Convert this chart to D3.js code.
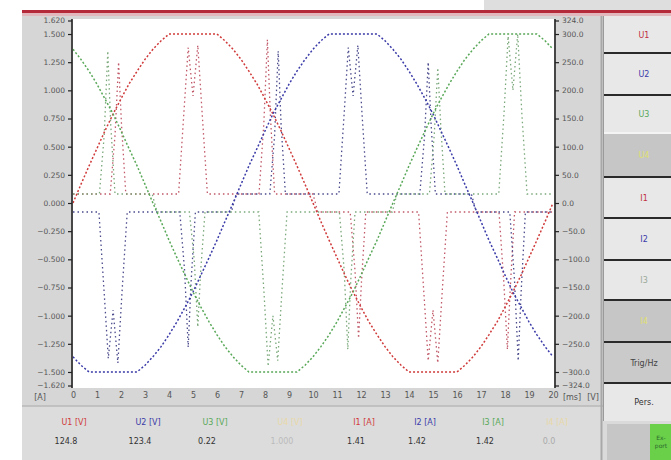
<!DOCTYPE html>
<html>
<head>
<meta charset="utf-8">
<script src="https://d3js.org/d3.v7.min.js"></script>
<style>
  body { margin: 0; background: #fff; }
  text { font-family: "DejaVu Sans", sans-serif; }
</style>
</head>
<body>
<div id="scope"></div>
<script>
// sample times [ms] for the voltages
const tV = [0,0.33,0.67,1,1.33,1.67,2,2.33,2.67,3,3.33,3.67,4,4.33,4.67,5,5.33,5.67,6,6.33,6.67,7,7.33,7.67,8,8.33,8.67,9,9.33,9.67,10,10.33,10.67,11,11.33,11.67,12,12.33,12.67,13,13.33,13.67,14,14.33,14.67,15,15.33,15.67,16,16.33,16.67,17,17.33,17.67,18,18.33,18.67,19,19.33,19.67,20];
const u1 = [0,33,66,97,128,158,185,211,234,255,273,288,300,300,300,300,300,300,300,288,273,255,234,211,185,158,128,97,66,33,0,-33,-66,-97,-128,-158,-185,-211,-234,-255,-273,-288,-300,-300,-300,-300,-300,-300,-300,-288,-273,-255,-234,-211,-185,-158,-128,-97,-66,-33,0];
const u2 = [-273,-288,-300,-300,-300,-300,-300,-300,-300,-288,-273,-255,-234,-211,-185,-158,-128,-97,-66,-33,0,33,66,97,128,158,185,211,234,255,273,288,300,300,300,300,300,300,300,288,273,255,234,211,185,158,128,97,66,33,0,-33,-66,-97,-128,-158,-185,-211,-234,-255,-273];
const u3 = [273,255,234,211,185,158,128,97,66,33,0,-33,-66,-97,-128,-158,-185,-211,-234,-255,-273,-288,-300,-300,-300,-300,-300,-300,-300,-288,-273,-255,-234,-211,-185,-158,-128,-97,-66,-33,0,33,66,97,128,158,185,211,234,255,273,288,300,300,300,300,300,300,300,288,273];

// currents: [time ms, amps] break points
const i1 = [[0,0.08],[1.55,0.08],[1.75,0.6],[1.9,1.25],[2.02,0.7],[2.2,0.08],
  [4.4,0.08],[4.62,0.8],[4.8,1.38],[5.0,0.95],[5.2,1.40],[5.38,0.8],[5.6,0.08],
  [7.75,0.08],[7.95,0.7],[8.1,1.45],[8.22,0.8],[8.4,0.08],[10.0,0.08],[10.2,-0.08],
  [11.55,-0.08],[11.75,-0.6],[11.9,-1.2],[12.02,-0.7],[12.2,-0.08],
  [14.4,-0.08],[14.62,-0.8],[14.8,-1.40],[15.0,-0.95],[15.2,-1.42],[15.38,-0.8],[15.6,-0.08],
  [17.75,-0.08],[17.95,-0.7],[18.1,-1.3],[18.22,-0.75],[18.4,-0.08],[20,-0.08]];
const i2 = [[0,-0.08],[1.08,-0.08],[1.3,-0.8],[1.47,-1.38],[1.67,-0.95],[1.87,-1.42],[2.04,-0.8],[2.26,-0.08],
  [4.45,-0.08],[4.65,-0.6],[4.8,-1.28],[4.92,-0.7],[5.1,-0.08],[6.6,-0.08],[6.8,0.08],
  [8.2,0.08],[8.4,0.6],[8.55,1.35],[8.67,0.7],[8.85,0.08],
  [11.08,0.08],[11.3,0.8],[11.47,1.38],[11.67,0.95],[11.87,1.40],[12.04,0.8],[12.26,0.08],
  [14.45,0.08],[14.65,0.6],[14.8,1.25],[14.92,0.7],[15.1,0.08],[16.6,0.08],[16.8,-0.08],
  [18.2,-0.08],[18.4,-0.7],[18.55,-1.4],[18.67,-0.8],[18.85,-0.08],[20,-0.08]];
const i3 = [[0,0.08],[1.1,0.08],[1.3,0.6],[1.45,1.35],[1.57,0.7],[1.75,0.08],[3.3,0.08],[3.5,-0.08],
  [4.85,-0.08],[5.05,-0.5],[5.2,-1.1],[5.32,-0.6],[5.5,-0.08],
  [7.74,-0.08],[7.96,-0.8],[8.13,-1.45],[8.33,-1.0],[8.53,-1.40],[8.7,-0.8],[8.92,-0.08],
  [11.1,-0.08],[11.3,-0.6],[11.45,-1.3],[11.57,-0.7],[11.75,-0.08],[13.3,-0.08],[13.5,0.08],
  [14.85,0.08],[15.05,0.6],[15.2,1.2],[15.32,0.7],[15.5,0.08],
  [17.74,0.08],[17.96,0.8],[18.13,1.48],[18.33,1.0],[18.53,1.5],[18.7,0.8],[18.92,0.08],[20,0.08]];

const timeTicks = [0,1,2,3,4,5,6,7,8,9,10,11,12,13,14,15,16,17,18,19,20];
const ampTicks = [-1.62,-1.5,-1.25,-1,-0.75,-0.5,-0.25,0,0.25,0.5,0.75,1,1.25,1.5,1.62];
const voltTicks = [-324,-300,-250,-200,-150,-100,-50,0,50,100,150,200,250,300,324];

const legendNames = ["U1 [V]","U2 [V]","U3 [V]","U4 [V]","I1 [A]","I2 [A]","I3 [A]","I4 [A]"];
const legendValues = ["124.8","123.4","0.22","1.000","1.41","1.42","1.42","0.0"];
const buttonNames = ["U1","U2","U3","U4","I1","I2","I3","I4","Trig/Hz","Pers."];

const W = 671, H = 460;
const svg = d3.select("#scope").append("svg").attr("width", W).attr("height", H);

// frame / panels
svg.append("rect").attr("x",484).attr("y",0).attr("width",187).attr("height",11).attr("fill","#dedede");
svg.append("rect").attr("x",22).attr("y",13).attr("width",581).attr("height",447).attr("fill","#d6d6d6");
svg.append("rect").attr("x",22).attr("y",406).attr("width",581).attr("height",54).attr("fill","#dcdcdc");
svg.append("line").attr("x1",22).attr("x2",603).attr("y1",406).attr("y2",406).attr("stroke","#b8b8b8").attr("stroke-width",1.5);
svg.append("rect").attr("x",22).attr("y",10).attr("width",649).attr("height",3).attr("fill","#b42a3a");
svg.append("rect").attr("x",22).attr("y",13).attr("width",649).attr("height",3).attr("fill","#e2b8bc");
svg.append("line").attr("x1",601.5).attr("x2",601.5).attr("y1",16).attr("y2",460).attr("stroke","#a8a8a8").attr("stroke-width",2);

const x = d3.scaleLinear().domain([0,20]).range([73,553]);
const yA = d3.scaleLinear().domain([-1.62,1.62]).range([385.5,20.5]);
const yV = d3.scaleLinear().domain([-324,324]).range([385.5,20.5]);

svg.append("rect").attr("x",73).attr("y",19).attr("width",481).attr("height",369).attr("fill","#fff");
svg.append("clipPath").attr("id","plotclip").append("rect")
  .attr("x",73).attr("y",19).attr("width",481).attr("height",369);

// axes
const leftAxis = svg.append("g").attr("transform","translate(72,0)")
  .call(d3.axisLeft(yA).tickValues(ampTicks).tickFormat(d3.format(".3f")).tickSize(4).tickSizeOuter(0));
const rightAxis = svg.append("g").attr("transform","translate(555,0)")
  .call(d3.axisRight(yV).tickValues(voltTicks).tickFormat(d3.format(".1f")).tickSize(4).tickSizeOuter(0));
[leftAxis, rightAxis].forEach(g => {
  g.select(".domain").attr("stroke","#222").attr("stroke-width",1.6);
  g.selectAll(".tick line").attr("stroke","#222").attr("stroke-width",1.2);
  g.selectAll("text").attr("fill","#555").style("font-size","7.5px");
});
leftAxis.select(".domain").attr("d","M0,19V388");
rightAxis.select(".domain").attr("d","M0,19V388");

const bottomAxis = svg.append("g").attr("transform","translate(0,390)")
  .call(d3.axisBottom(x).tickValues(timeTicks).tickSize(0).tickFormat(d3.format("d")));
bottomAxis.select(".domain").remove();
bottomAxis.selectAll("text").attr("fill","#555").style("font-size","8px").attr("dy","0.6em");

svg.append("text").attr("x",40).attr("y",400).attr("text-anchor","middle")
  .attr("fill","#555").style("font-size","8px").text("[A]");
svg.append("text").attr("x",572).attr("y",400).attr("text-anchor","middle")
  .attr("fill","#555").style("font-size","8px").text("[ms]");
svg.append("text").attr("x",593).attr("y",400).attr("text-anchor","middle")
  .attr("fill","#555").style("font-size","8px").text("[V]");

// traces
const plot = svg.append("g").attr("clip-path","url(#plotclip)");
const vLine = d3.line().x((d,i) => x(tV[i])).y(d => yV(d));
const iLine = d3.line().x(d => x(d[0])).y(d => yA(d[1]));

const currents = [[i1,"#c05868"],[i2,"#4a4a8c"],[i3,"#7aa87a"]];
currents.forEach(([data,col]) => {
  plot.append("path").datum(data).attr("d", iLine)
    .attr("fill","none").attr("stroke",col).attr("stroke-width",1.3)
    .attr("stroke-dasharray","1.5,3");
});
const volts = [[u1,"#d03a3a"],[u2,"#3a3aa8"],[u3,"#58a858"]];
volts.forEach(([data,col]) => {
  plot.append("path").datum(data).attr("d", vLine)
    .attr("fill","none").attr("stroke",col).attr("stroke-width",1.5)
    .attr("stroke-dasharray","2,2");
});

// legend
const legendX = [74,148,215,290,364,425,493,557];
const legendColors = ["#d03a3a","#3a3aa8","#58a858","#e8d8a8","#d03a3a","#3a3aa8","#58a858","#e8d8a8"];
const valueColors = ["#333","#333","#333","#bbb","#333","#333","#333","#aaa"];
legendNames.forEach((n,i) => {
  svg.append("text").attr("x",legendX[i]).attr("y",425).attr("text-anchor","middle")
    .attr("fill",legendColors[i]).style("font-size","8px").text(n);
  svg.append("text").attr("x",legendX[i]-8).attr("y",444).attr("text-anchor","middle")
    .attr("fill",valueColors[i]).style("font-size","8px").text(legendValues[i]);
});

// side buttons
const btnY = [16,53,95,133,177,218,260,300,342,383,421];
const btnFill = ["#e8e8e8","#e8e8e8","#e8e8e8","#c6c6c6","#e8e8e8","#e8e8e8","#e8e8e8","#c6c6c6","#cacaca","#e8e8e8"];
const btnText = ["#c03040","#3a3aa8","#58a858","#e0e070","#c03040","#3a3aa8","#9aa89a","#e0e070","#444","#333"];
buttonNames.forEach((n,i) => {
  svg.append("rect").attr("x",603).attr("y",btnY[i]).attr("width",68).attr("height",btnY[i+1]-btnY[i])
    .attr("fill",btnFill[i]);
  svg.append("text").attr("x",644).attr("y",(btnY[i]+btnY[i+1])/2+3).attr("text-anchor","middle")
    .attr("fill",btnText[i]).style("font-size","8px").text(n);
  if (i > 0) svg.append("line").attr("x1",603).attr("x2",671).attr("y1",btnY[i]).attr("y2",btnY[i])
    .attr("stroke", i === 3 ? "#f4f4f4" : "#2a2a2a").attr("stroke-width",2);
});
svg.append("line").attr("x1",603.5).attr("x2",603.5).attr("y1",16).attr("y2",421).attr("stroke","#9a9a9a");
svg.append("rect").attr("x",603).attr("y",421).attr("width",68).attr("height",39).attr("fill","#dadada");
svg.append("rect").attr("x",607).attr("y",424).attr("width",43).attr("height",36).attr("fill","#c6c6c6");
svg.append("rect").attr("x",650).attr("y",424).attr("width",21).attr("height",36).attr("fill","#6ad04a");
svg.append("text").attr("x",661).attr("y",440).attr("text-anchor","middle").attr("fill","#2a6a2a")
  .style("font-size","6px").text("Ex-");
svg.append("text").attr("x",661).attr("y",448).attr("text-anchor","middle").attr("fill","#2a6a2a")
  .style("font-size","6px").text("port");
</script>
</body>
</html>
